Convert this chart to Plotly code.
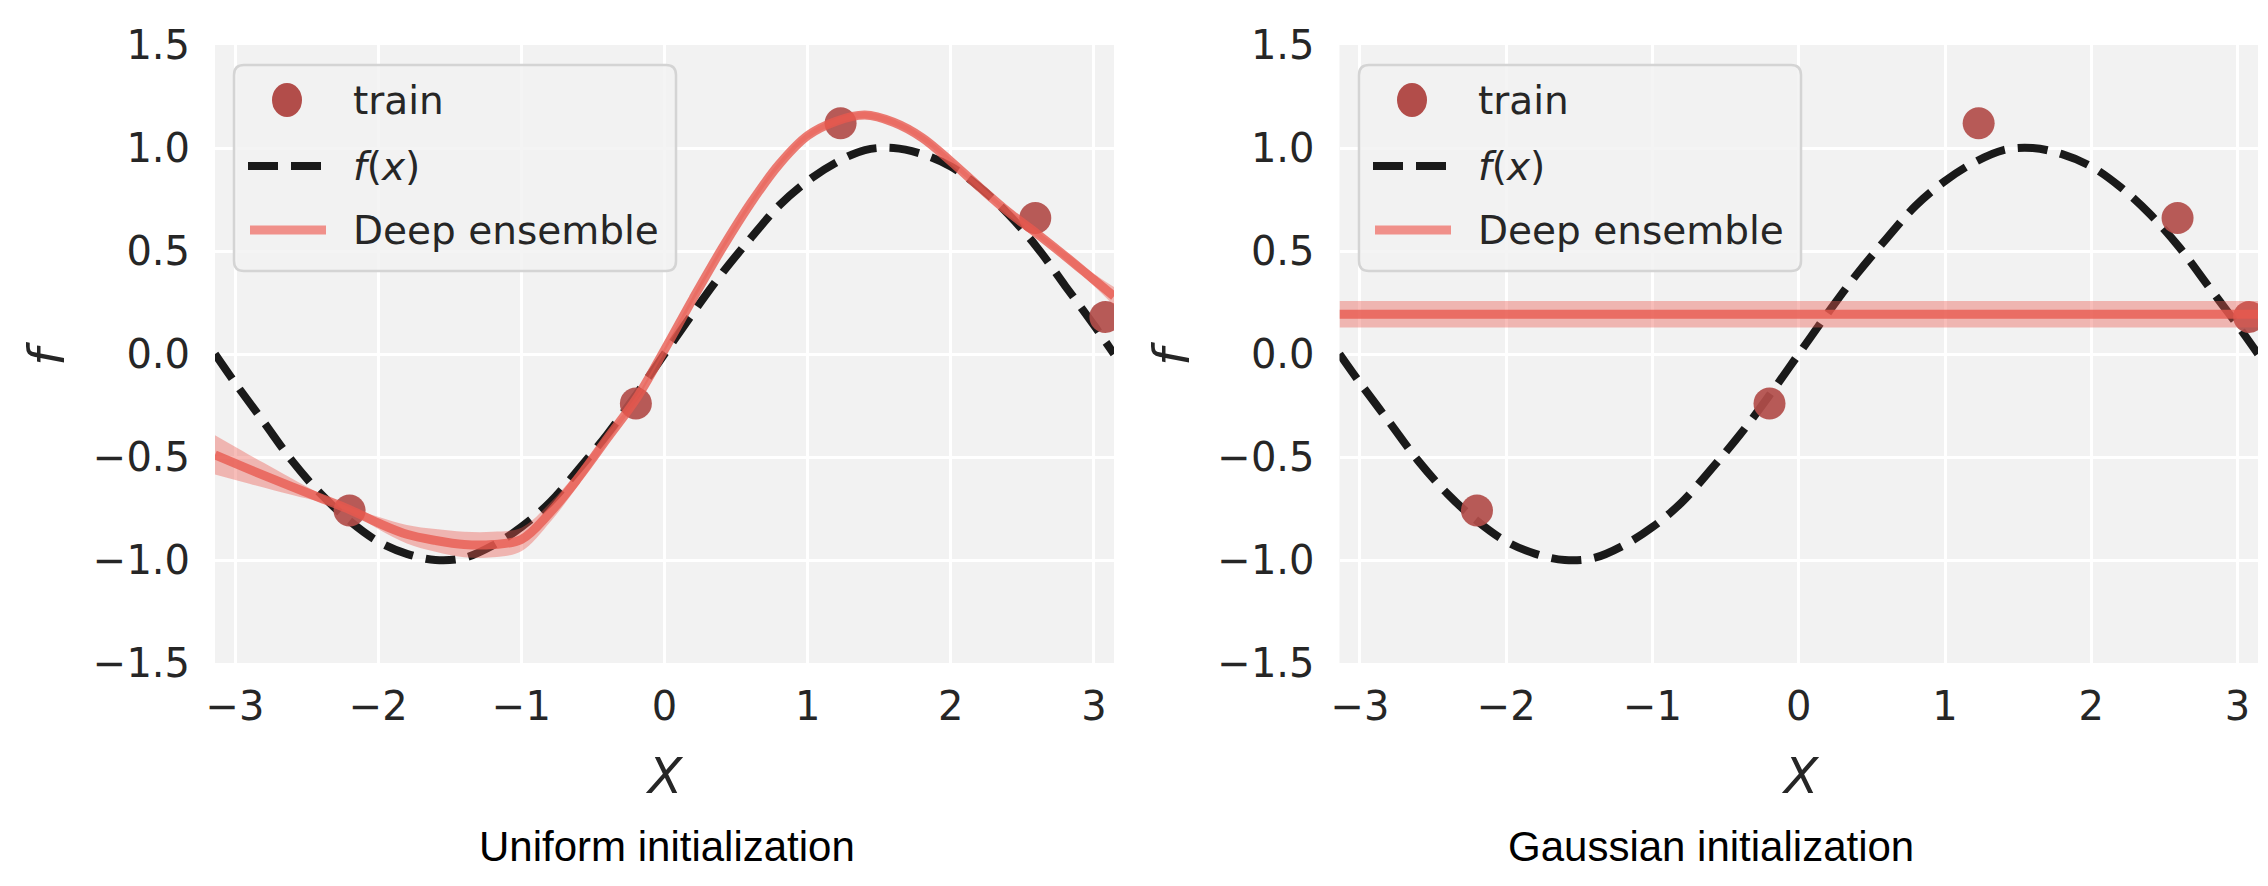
import plotly.graph_objects as go

W, H = 2268, 886

# training points (same in both panels)
train_x = [-2.20, -0.20, 1.23, 2.59, 3.08]
train_y = [-0.76, -0.24, 1.12, 0.66, 0.18]

fx_x = [-3.14, -3.0, -2.8, -2.6, -2.4, -2.2, -2.0, -1.8, -1.6, -1.4, -1.2, -1.0, -0.8,
        -0.6, -0.4, -0.2, 0.0, 0.2, 0.4, 0.6, 0.8, 1.0, 1.2, 1.4, 1.6, 1.8, 2.0, 2.2,
        2.4, 2.6, 2.8, 3.0, 3.14]
fx_y = [0.00, -0.14, -0.33, -0.52, -0.68, -0.81, -0.91, -0.97, -1.00, -0.99, -0.93, -0.84, -0.72,
        -0.56, -0.39, -0.20, 0.00, 0.20, 0.39, 0.56, 0.72, 0.84, 0.93, 0.99, 1.00, 0.97, 0.91, 0.81,
        0.68, 0.52, 0.33, 0.14, 0.00]

# deep ensemble, uniform initialization (mean and half spread)
uni_x = [-3.14, -2.9, -2.6, -2.4, -2.2, -2.0, -1.8, -1.6, -1.4, -1.2, -1.0, -0.8, -0.6,
         -0.4, -0.2, 0.0, 0.2, 0.4, 0.6, 0.8, 1.0, 1.2, 1.4, 1.6, 1.8, 2.0, 2.2, 2.4,
         2.6, 2.8, 3.0, 3.14]
uni_mean = [-0.49, -0.56, -0.645, -0.70, -0.755, -0.82, -0.875, -0.905, -0.925, -0.925, -0.90, -0.77, -0.60,
            -0.41, -0.22, 0.02, 0.27, 0.51, 0.73, 0.92, 1.06, 1.13, 1.16, 1.125, 1.05, 0.935, 0.81, 0.69,
            0.585, 0.475, 0.36, 0.28]
uni_spread = [0.095, 0.07, 0.04, 0.02, 0.012, 0.03, 0.045, 0.055, 0.062, 0.062, 0.057, 0.047, 0.035,
              0.025, 0.012, 0.012, 0.015, 0.015, 0.015, 0.015, 0.015, 0.015, 0.015, 0.015, 0.015, 0.015, 0.015, 0.015,
              0.015, 0.02, 0.03, 0.045]

# deep ensemble, gaussian initialization (flat prediction)
gau_x = [-3.14, 3.14]
gau_mean = [0.193, 0.193]
gau_spread = [0.064, 0.064]

x_ticks = [-3, -2, -1, 0, 1, 2, 3]
y_ticks = [-1.5, -1.0, -0.5, 0.0, 0.5, 1.0, 1.5]

RED_MARK = "#b24d4a"
RED_LINE = "rgba(232,88,78,0.78)"
RED_BAND = "rgba(234,90,80,0.40)"
DARK = "#1a1a1a"
FONT = "DejaVu Sans"


def px(x):
    return x / W


def py(y):
    return 1 - y / H


fig = go.Figure()

panels = [
    ("x", "y", uni_x, uni_mean, uni_spread),
    ("x2", "y2", gau_x, gau_mean, gau_spread),
]
for xa, ya, ex, em, es in panels:
    fig.add_trace(go.Scatter(x=fx_x, y=fx_y, mode="lines", line_shape="spline",
                             line=dict(color=DARK, width=8, dash="30px,13px"),
                             xaxis=xa, yaxis=ya, showlegend=False))
    fig.add_trace(go.Scatter(x=train_x, y=train_y, mode="markers",
                             marker=dict(color=RED_MARK, size=32, opacity=0.92),
                             xaxis=xa, yaxis=ya, showlegend=False, cliponaxis=True))
    lower = [m - s for m, s in zip(em, es)]
    upper = [m + s for m, s in zip(em, es)]
    fig.add_trace(go.Scatter(x=ex, y=lower, mode="lines", line_shape="spline",
                             line=dict(width=0, color=RED_BAND),
                             xaxis=xa, yaxis=ya, showlegend=False))
    fig.add_trace(go.Scatter(x=ex, y=upper, mode="lines", line_shape="spline",
                             line=dict(width=0, color=RED_BAND), fill="tonexty", fillcolor=RED_BAND,
                             xaxis=xa, yaxis=ya, showlegend=False))
    fig.add_trace(go.Scatter(x=ex, y=em, mode="lines", line_shape="spline",
                             line=dict(color=RED_LINE, width=9),
                             xaxis=xa, yaxis=ya, showlegend=False))

axis_common = dict(showgrid=True, gridcolor="white", gridwidth=3, zeroline=False,
                   showline=False, ticks="", automargin=False,
                   tickfont=dict(family=FONT, size=40, color="#262626"))
y_dom = [py(655), py(37)]

fig.update_layout(
    width=W, height=H,
    margin=dict(l=0, r=0, t=0, b=0, autoexpand=False),
    paper_bgcolor="white",
    plot_bgcolor="#f2f2f2",
    showlegend=False,
    xaxis=dict(domain=[px(207), px(1106)], range=[-3.14, 3.14], tickvals=x_ticks,
               ticklabelstandoff=16, anchor="y", **axis_common),
    yaxis=dict(domain=y_dom, range=[-1.5, 1.5], tickvals=y_ticks, tickformat=".1f",
               ticklabelstandoff=24, anchor="x", **axis_common),
    xaxis2=dict(domain=[px(1331.5), px(2250)], range=[-3.14, 3.14], tickvals=x_ticks,
                ticklabelstandoff=16, anchor="y2", **axis_common),
    yaxis2=dict(domain=y_dom, range=[-1.5, 1.5], tickvals=y_ticks, tickformat=".1f",
                ticklabelstandoff=24, anchor="x2", **axis_common),
)


def label(x, y, text, size, family=FONT, color="#262626", angle=0, xanchor="center"):
    fig.add_annotation(x=px(x), y=py(y), xref="paper", yref="paper", text=text,
                       textangle=angle, showarrow=False, xanchor=xanchor, yanchor="middle",
                       font=dict(family=family, size=size, color=color))


# axis titles, captions and a hand drawn legend for each panel
for dx, fx_c, cap_x, cap in [(0, 656, 659, "Uniform initialization"),
                              (1125, 1792, 1703, "Gaussian initialization")]:
    label(39 + dx, 346, "<i>f</i>", 50, angle=-90)
    label(fx_c, 768, "<i>X</i>", 50)
    label(cap_x, 838, cap, 42, family="Liberation Sans", color="black")

    x0, x1, y0, y1, r = 226 + dx, 668 + dx, 57, 263, 10
    path = (f"M {px(x0 + r)},{py(y0)} L {px(x1 - r)},{py(y0)} Q {px(x1)},{py(y0)} {px(x1)},{py(y0 + r)} "
            f"L {px(x1)},{py(y1 - r)} Q {px(x1)},{py(y1)} {px(x1 - r)},{py(y1)} "
            f"L {px(x0 + r)},{py(y1)} Q {px(x0)},{py(y1)} {px(x0)},{py(y1 - r)} "
            f"L {px(x0)},{py(y0 + r)} Q {px(x0)},{py(y0)} {px(x0 + r)},{py(y0)} Z")
    fig.add_shape(type="path", path=path, xref="paper", yref="paper",
                  fillcolor="rgba(242,242,242,0.85)", line=dict(color="#d4d4d4", width=2.5))
    fig.add_shape(type="circle", xref="paper", yref="paper",
                  x0=px(264 + dx), x1=px(294 + dx), y0=py(75), y1=py(109),
                  fillcolor=RED_MARK, line=dict(width=0))
    fig.add_shape(type="line", xref="paper", yref="paper",
                  x0=px(240 + dx), x1=px(315 + dx), y0=py(158), y1=py(158),
                  line=dict(color=DARK, width=8, dash="30px,13px"))
    fig.add_shape(type="line", xref="paper", yref="paper",
                  x0=px(242 + dx), x1=px(318 + dx), y0=py(222), y1=py(222),
                  line=dict(color="#f0908a", width=9))
    for ty, txt in [(92, "train"), (158, "<i>f</i>(<i>x</i>)"), (222, "Deep ensemble")]:
        label(343 + dx, ty, txt, 39, xanchor="left")

fig.write_html("out.html")
